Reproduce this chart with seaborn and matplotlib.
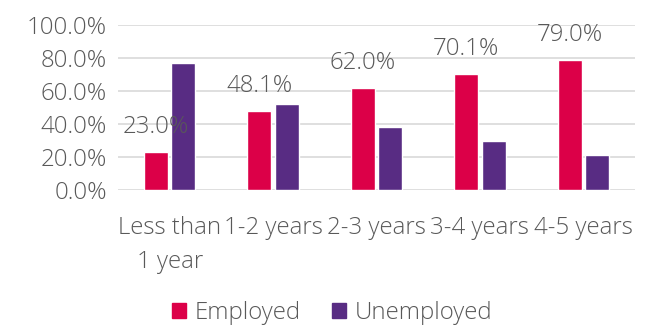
import matplotlib
matplotlib.use("Agg")
import matplotlib.pyplot as plt
import seaborn as sns
import pandas as pd
from matplotlib.patches import Patch

categories = ["Less than\n1 year", "1-2 years", "2-3 years", "3-4 years", "4-5 years"]
employed = [23.0, 48.1, 62.0, 70.1, 79.0]
unemployed = [77.0, 51.9, 38.0, 29.9, 21.0]
series = ["Employed", "Unemployed"]
colors = ["#DC0048", "#582C83"]
yticks = [0, 20, 40, 60, 80, 100]

sns.set_theme(style="white")
plt.rcParams["font.family"] = ["Open Sans", "DejaVu Sans"]

df = pd.DataFrame({
    "cat": categories * 2,
    "val": employed + unemployed,
    "series": [series[0]] * len(categories) + [series[1]] * len(categories),
})

FS = 17.3

fig = plt.figure(figsize=(6.48, 3.26), dpi=100)
ax = fig.add_axes([118/648, 1-190/326, (635-118)/648, (190-25)/326])
sns.barplot(data=df, x="cat", y="val", hue="series", palette=colors,
            width=0.53, gap=0.13, ax=ax, legend=False, saturation=1)

ax.set_xlim(-0.5, len(categories) - 0.5)
ax.set_ylim(0, 100)
ax.set_yticks(yticks)
ax.set_yticklabels([f"{v:.1f}%" for v in yticks])
ax.set_xlabel("")
ax.set_ylabel("")
ax.grid(axis="y", color="#D9D9D9", linewidth=1.2)
ax.set_axisbelow(True)
for s in ax.spines.values():
    s.set_visible(False)
ax.tick_params(axis="both", length=0, labelsize=FS, labelcolor="#595959")
ax.tick_params(axis="x", pad=19)
ax.tick_params(axis="y", pad=8)
for t in ax.get_xticklabels() + ax.get_yticklabels():
    t.set_fontweight("light")
for t in ax.get_xticklabels():
    t.set_linespacing(1.55)

# value labels on employed bars
emp_bars = ax.containers[0]
for bar, v in zip(emp_bars, employed):
    ax.annotate(f"{v:.1f}%", (bar.get_x() + bar.get_width()/2, v),
                xytext=(0, 18), textcoords="offset points",
                ha="center", va="center", fontsize=FS, color="#595959",
                fontweight="light")

handles = [Patch(color=c, label=s) for c, s in zip(colors, series)]
fig.legend(handles=handles, loc="center", bbox_to_anchor=(332/648, 1-313/326),
           ncol=2, frameon=False, fontsize=FS, handlelength=0.6, handleheight=0.6,
           handletextpad=0.35, columnspacing=1.3, labelcolor="#595959",
           borderpad=0.2)
for t in fig.legends[0].get_texts():
    t.set_fontweight("light")

fig.savefig("out.png", dpi=100)
